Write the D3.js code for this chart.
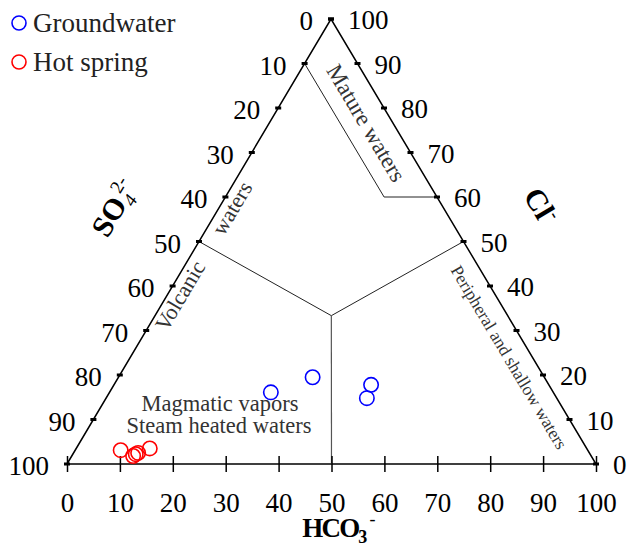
<!DOCTYPE html>
<html>
<head>
<meta charset="utf-8">
<script src="https://cdn.jsdelivr.net/npm/d3@7"></script>
<style>
  body { margin: 0; background: #fff; }
  svg text { font-family: "Liberation Serif", "Times New Roman", serif; }
</style>
</head>
<body>
<svg id="chart" width="628" height="545"></svg>
<script>
// tick values shared by the three sides (percent)
const tickValues = [0, 10, 20, 30, 40, 50, 60, 70, 80, 90, 100];

// samples, as [HCO3, SO4, Cl] percentages
const gwHCO3 = [30.5, 36.7, 48.6, 49.3];
const gwSO4  = [53.4, 43.8, 33.6, 35.9];
const gwCl   = [16.1, 19.5, 17.8, 14.8];

const hsHCO3 = [8.6, 11.6, 11.9, 12.2, 13.9];
const hsSO4  = [88.3, 86.6, 85.9, 85.3, 82.6];
const hsCl   = [3.1, 1.8, 2.2, 2.5, 3.5];

// Giggenbach field boundaries, [HCO3, SO4, Cl]
const matureLine = [[0, 10, 90], [30, 10, 60], [40, 0, 60]];
const volcanicLine = [[0, 50, 50], [100 / 3, 100 / 3, 100 / 3], [50, 0, 50]];
const peripheralLine = [[100 / 3, 100 / 3, 100 / 3], [50, 50, 0]];

const legendNames = ["Groundwater", "Hot spring"];
const legendColors = ["#0000ff", "#ff0000"];

const svg = d3.select("#chart");

// triangle corners: SO4 bottom-left, HCO3 bottom-right, Cl top
const left = 67, right = 596, base = 464, apexX = 331, apexY = 19;

var xHCO3 = d3.scaleLinear().domain([0, 100]).range([left, right]);
var xCl = d3.scaleLinear().domain([0, 100]).range([0, apexX - left]);
var yCl = d3.scaleLinear().domain([0, 100]).range([base, apexY]);

function proj(p) {
  // p = [HCO3, SO4, Cl]
  return [xHCO3(p[0]) + xCl(p[2]), yCl(p[2])];
}

var angL = Math.atan2(apexY - base, apexX - left) * 180 / Math.PI;
var angR = Math.atan2(base - apexY, right - apexX) * 180 / Math.PI;

// outline
svg.append("path")
  .attr("d", d3.line()([proj([0, 100, 0]), proj([0, 0, 100]), proj([100, 0, 0]), proj([0, 100, 0])]))
  .attr("fill", "none")
  .attr("stroke", "#000")
  .attr("stroke-width", 1.5);

// field lines
[matureLine, volcanicLine].forEach(function (l) {
  svg.append("path")
    .attr("d", d3.line()(l.map(proj)))
    .attr("fill", "none")
    .attr("stroke", "#222")
    .attr("stroke-width", 1);
});
svg.append("path")
  .attr("d", d3.line()(peripheralLine.map(proj)))
  .attr("fill", "none")
  .attr("stroke", "#555")
  .attr("stroke-width", 1.2);

// bottom axis (HCO3)
var axisB = svg.append("g")
  .attr("transform", "translate(0," + base + ")")
  .call(d3.axisBottom(xHCO3).tickValues(tickValues).tickSize(8).tickPadding(21));
axisB.select(".domain").remove();
axisB.selectAll(".tick line").attr("y1", -8).attr("stroke-width", 1.5);
axisB.selectAll(".tick text")
  .attr("font-family", "Liberation Serif")
  .attr("font-size", 27)
  .attr("fill", "#000");

// left side (SO4) - 0 at top, 100 at bottom-left
var leftTicks = svg.append("g");
leftTicks.selectAll("rect")
  .data(tickValues).enter()
  .append("rect")
  .attr("x", d => proj([0, d, 100 - d])[0] - 3)
  .attr("y", d => proj([0, d, 100 - d])[1] - 1.5)
  .attr("width", 6).attr("height", 3)
  .attr("fill", "#000");
leftTicks.selectAll("text")
  .data(tickValues).enter()
  .append("text")
  .attr("x", d => proj([0, d, 100 - d])[0] - 18)
  .attr("y", d => proj([0, d, 100 - d])[1] + 11)
  .attr("text-anchor", "end")
  .attr("font-size", 27)
  .text(d => d);

// right side (Cl) - 100 at top, 0 at bottom-right
var rightTicks = svg.append("g");
rightTicks.selectAll("rect")
  .data(tickValues).enter()
  .append("rect")
  .attr("x", d => proj([100 - d, 0, d])[0] - 3)
  .attr("y", d => proj([100 - d, 0, d])[1] - 1.5)
  .attr("width", 6).attr("height", 3)
  .attr("fill", "#000");
rightTicks.selectAll("text")
  .data(tickValues).enter()
  .append("text")
  .attr("x", d => proj([100 - d, 0, d])[0] + 17)
  .attr("y", d => proj([100 - d, 0, d])[1] + 10)
  .attr("text-anchor", "start")
  .attr("font-size", 27)
  .text(d => d);

// axis titles
var so4 = svg.append("text")
  .attr("transform", "translate(123,213) rotate(" + angL + ")")
  .attr("text-anchor", "middle")
  .attr("font-size", 30)
  .attr("font-weight", "bold");
so4.append("tspan").text("SO");
so4.append("tspan").attr("font-size", 19).attr("font-weight", "normal").attr("font-style", "italic").attr("dy", 6).text("4");
so4.append("tspan").attr("font-size", 19).attr("font-weight", "normal").attr("dx", -5).attr("dy", -18).text("2-");

var cl = svg.append("text")
  .attr("transform", "translate(532,211) rotate(" + angR + ")")
  .attr("text-anchor", "middle")
  .attr("font-size", 30)
  .attr("font-weight", "bold");
cl.append("tspan").text("Cl");
cl.append("tspan").attr("font-size", 18).attr("dy", -12).text("-");

var hco3 = svg.append("text")
  .attr("x", 338).attr("y", 537)
  .attr("text-anchor", "middle")
  .attr("font-size", 27)
  .attr("font-weight", "bold")
  .attr("letter-spacing", -1.8);
hco3.append("tspan").text("HCO");
hco3.append("tspan").attr("font-size", 18).attr("dy", 6).text("3");
hco3.append("tspan").attr("font-size", 18).attr("font-weight", "normal").attr("dx", 4).attr("dy", -18).text("-");

// field labels
function fieldLabel(p, ang, size, txt) {
  var q = proj(p);
  svg.append("text")
    .attr("transform", "translate(" + q[0] + "," + q[1] + ") rotate(" + ang + ")")
    .attr("text-anchor", "middle")
    .attr("dominant-baseline", "central")
    .attr("font-size", size)
    .attr("fill", "#333")
    .text(txt);
}
fieldLabel([18.3, 5.1, 76.6], angR, 23, "Mature waters");
fieldLabel([71.6, 4.4, 24], angR, 17.5, "Peripheral and shallow waters");
fieldLabel([2.5, 40, 57.5], angL, 22, "waters");
fieldLabel([2.5, 59.7, 37.8], angL, 22, "Volcanic");

svg.append("text").attr("x", 220).attr("y", 411)
  .attr("text-anchor", "middle").attr("font-size", 22.5).attr("fill", "#333")
  .text("Magmatic vapors");
svg.append("text").attr("x", 219).attr("y", 433)
  .attr("text-anchor", "middle").attr("font-size", 22.5).attr("fill", "#333")
  .text("Steam heated waters");

// samples
function drawSamples(h, s, c, color) {
  svg.append("g").selectAll("circle")
    .data(d3.range(h.length)).enter()
    .append("circle")
    .attr("cx", i => proj([h[i], s[i], c[i]])[0])
    .attr("cy", i => proj([h[i], s[i], c[i]])[1])
    .attr("r", 7.2)
    .attr("fill", "none")
    .attr("stroke", color)
    .attr("stroke-width", 1.6);
}
drawSamples(gwHCO3, gwSO4, gwCl, legendColors[0]);
drawSamples(hsHCO3, hsSO4, hsCl, legendColors[1]);

// legend
var legend = svg.append("g").selectAll("g")
  .data(legendNames).enter()
  .append("g")
  .attr("transform", (d, i) => "translate(19," + (23 + i * 39) + ")");
legend.append("circle")
  .attr("r", 7)
  .attr("fill", "none")
  .attr("stroke", (d, i) => legendColors[i])
  .attr("stroke-width", 1.6);
legend.append("text")
  .attr("x", 14)
  .attr("y", 9)
  .attr("font-size", 27)
  .attr("fill", "#222")
  .text(d => d);
</script>
</body>
</html>
